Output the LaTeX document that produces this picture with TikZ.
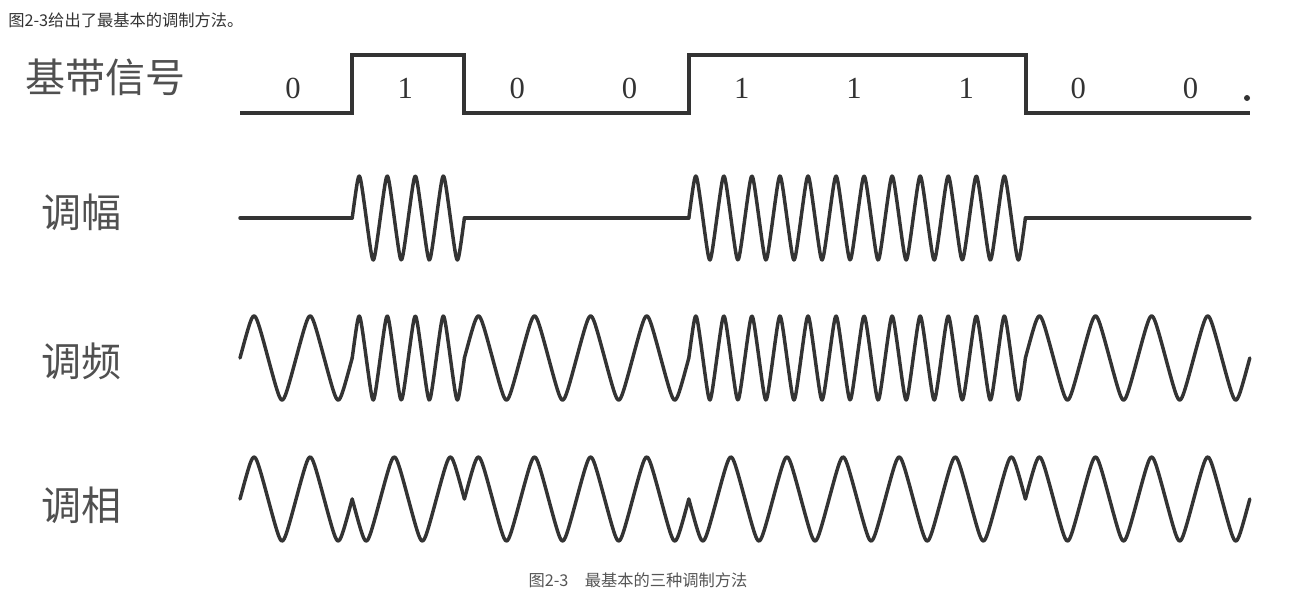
\documentclass[tikz,border=0pt]{standalone}
\usepackage{fontspec}
\setmainfont{Liberation Serif}
\newfontfamily\cjk{Noto Sans CJK SC}
\definecolor{ink}{HTML}{333333}
\definecolor{labelgray}{HTML}{505050}
\definecolor{capgray}{HTML}{555555}
\tikzset{
  wave/.style={line width=2.6pt, ink, line cap=round, line join=round},
  baseband/.style={line width=3pt, ink, line join=miter},
  rowlabel/.style={font=\cjk\fontsize{30}{30}\selectfont, text=labelgray, anchor=west, inner sep=0pt},
  bitlabel/.style={font=\fontsize{23}{23}\selectfont, text=ink, inner sep=0pt},
  caption/.style={font=\cjk\fontsize{12.2}{12.2}\selectfont, inner sep=0pt}
}
% carrier with straight flanks and round tips
\newcommand{\carrier}[1]{asin(0.92*sin(#1))/asin(0.92)}
\begin{document}
\begin{tikzpicture}[x=0.75pt, y=-0.75pt]
\useasboundingbox (0,0) rectangle (1295,604);

% captions
\node[caption, text=ink, anchor=west] (top) at (8,20) {图2-3给出了最基本的调制方法。};
\node[caption, text=capgray] (bottom) at (638,580) {图2-3\hspace{1em}最基本的三种调制方法};

% row labels
\node[rowlabel] (base) at (25,77) {基带信号};
\node[rowlabel] (am) at (41,212) {调幅};
\node[rowlabel] (fm) at (41,361) {调频};
\node[rowlabel] (pm) at (41,505) {调相};

% baseband signal
\draw[baseband] (240,113) -- (352.2,113) -- (352.2,55) -- (464.4,55) -- (464.4,113)
  -- (688.9,113) -- (688.9,55) -- (1025.6,55) -- (1025.6,113) -- (1250,113);
\fill[ink] (1247,98) circle (3);

% one bit after the other
\foreach \b [count=\i from 0] in {0,1,0,0,1,1,1,0,0} {
  \pgfmathsetmacro\xa{240+112.2*\i}
  \pgfmathsetmacro\xb{240+112.2*(\i+1)}
  \pgfmathsetmacro\s{1-2*\b}
  \pgfmathtruncatemacro\n{2+2*\b}
  \node[bitlabel] (bit\i) at ({\xa+53},88) {\b};
  % amplitude
  \ifnum\b=1
    \draw[wave] plot[domain=\xa:\xb, samples=160]
      (\x, {218-42*\carrier{(\x-\xa)/112.2*1440}});
  \else
    \draw[wave] (\xa,218) -- (\xb,218);
  \fi
  % frequency
  \draw[wave] plot[domain=\xa:\xb, samples=160]
    (\x, {358-42*\carrier{(\x-\xa)/112.2*360*\n}});
  % phase
  \draw[wave] plot[domain=\xa:\xb, samples=100]
    (\x, {499-42*\s*\carrier{(\x-\xa)/112.2*720}});
}

\end{tikzpicture}
\end{document}
